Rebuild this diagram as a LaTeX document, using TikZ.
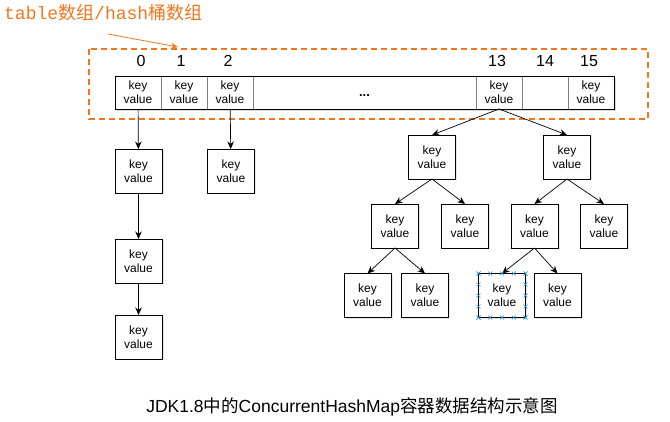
\documentclass[tikz,border=0pt]{standalone}
\usepackage{fontspec}
\setmainfont{Liberation Sans}
\newfontfamily\cjk{Noto Sans CJK SC}
\newfontfamily\monofont{Liberation Mono}
\usetikzlibrary{arrows.meta,shadows,calc}

\definecolor{hashorange}{RGB}{241,118,32}
\definecolor{handleblue}{RGB}{40,150,230}
\newcommand\zh[1]{{\cjk #1}}

\tikzset{
	kvbox/.style={draw, line width=0.8pt, fill=white, inner sep=0pt, outer sep=0pt,
		minimum width=47pt, minimum height=44pt, align=center,
		font=\fontsize{12}{13.7}\selectfont,
		drop shadow={opacity=0.2, shadow xshift=1.5pt, shadow yshift=-1.5pt}},
	cell/.style={draw=gray, line width=0.8pt, fill=white, inner sep=0pt, outer sep=0pt,
		minimum width=46pt, minimum height=33pt, align=center,
		font=\fontsize{12}{13.7}\selectfont},
	idx/.style={font=\fontsize{16}{16}\selectfont, inner sep=0pt},
	link/.style={-{Stealth[length=7.5pt,width=6.5pt]}, line width=0.7pt},
}

\begin{document}
\begin{tikzpicture}[x=1pt,y=-1pt]
		\useasboundingbox (0,0) rectangle (670,422);

		% title and its pointer
		\node[anchor=west, inner sep=0pt, text=hashorange, font=\fontsize{18}{18}\selectfont] (title) at (4,13)
			{{\monofont table}\zh{数组}{\monofont /hash}\zh{桶数组}};
		\coordinate (ptrtail) at (108,34);
		\coordinate (ptrhead) at (178,47);
		\draw[hashorange, line width=0.8pt, -{Stealth[length=7pt,width=6pt]}] (ptrtail) -- (ptrhead);

		% the table
		\draw[hashorange, line width=2pt, dash pattern=on 6pt off 4pt] (89,49) rectangle (648,119);
		\fill[black, opacity=0.15] (117,78) rectangle (616,111);
		\node[cell] (t0) at (138,92.5) {key\\value};
		\node[cell] (t1) at (184,92.5) {key\\value};
		\node[cell] (t2) at (230,92.5) {key\\value};
		\node[cell, minimum width=223pt] (tdots) at (364.5,92.5) {};
		\node[inner sep=0pt, font=\fontsize{13}{13}\selectfont\bfseries] (dots) at (364.5,95.5) {...};
		\node[cell] (t13) at (499,92.5) {key\\value};
		\node[cell] (t14) at (545,92.5) {};
		\node[cell] (t15) at (591,92.5) {key\\value};
		\draw[line width=0.8pt] (t0.north west) rectangle (t15.south east);

		\node[idx] (i0) at (141,61) {0};
		\node[idx] (i1) at (181,61) {1};
		\node[idx] (i2) at (228,61) {2};
		\node[idx] (i13) at (497,61) {13};
		\node[idx] (i14) at (545,61) {14};
		\node[idx] (i15) at (589,61) {15};

		% linked lists
		\node[kvbox] (a1) at (138.5,171) {key\\value};
		\node[kvbox] (a2) at (138.5,261) {key\\value};
		\node[kvbox] (a3) at (138.5,337) {key\\value};
		\node[kvbox] (b1) at (231,171) {key\\value};
		\draw[link] (t0) -- (a1);
		\draw[link] (a1) -- (a2);
		\draw[link] (a2) -- (a3);
		\draw[link] (t2) -- (b1);

		% red-black tree
		\node[kvbox] (l1) at (432,157) {key\\value};
		\node[kvbox] (r1) at (567,157) {key\\value};
		\node[kvbox] (ll) at (395,226) {key\\value};
		\node[kvbox] (lr) at (465,226) {key\\value};
		\node[kvbox] (rl) at (534.5,226) {key\\value};
		\node[kvbox] (rr) at (604,226) {key\\value};
		\node[kvbox] (lll) at (367.5,295.5) {key\\value};
		\node[kvbox] (llr) at (425,295.5) {key\\value};
		\node[kvbox] (rll) at (502,295.5) {key\\value};
		\node[kvbox] (rlr) at (557.5,295.5) {key\\value};
		\draw[link] (t13.south) -- (l1.north);
		\draw[link] (t13.south) -- (r1.north);
		\draw[link] (l1.south) -- (ll.north);
		\draw[link] (l1.south) -- (lr.north);
		\draw[link] (r1.south) -- (rl.north);
		\draw[link] (r1.south) -- (rr.north);
		\draw[link] (ll.south) -- (lll.north);
		\draw[link] (ll.south) -- (llr.north);
		\draw[link] (rl.south) -- (rll.north);
		\draw[link] (rl.south) -- (rlr.north);

		% selection handles
		\foreach \f in {0,0.25,0.5,0.75,1} {
			\foreach \p in {($(rll.north west)!\f!(rll.north east)$),($(rll.south west)!\f!(rll.south east)$),
				($(rll.north west)!\f!(rll.south west)$),($(rll.north east)!\f!(rll.south east)$)} {
				\draw[handleblue, line width=0.6pt] \p ++(-2,-2) -- ++(4,4) ++(-4,0) -- ++(4,-4);
			}
		}

		\node[font=\fontsize{17.5}{17.5}\selectfont] (caption) at (352,407)
			{JDK1.8\zh{中的}ConcurrentHashMap\zh{容器数据结构示意图}};
	\end{tikzpicture}
\end{document}
